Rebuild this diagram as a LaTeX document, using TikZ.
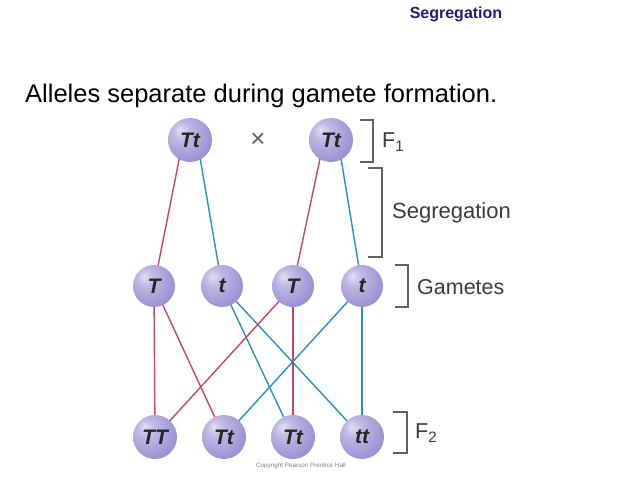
\documentclass[tikz,border=0pt]{standalone}
\usepackage{fontspec}
\setmainfont{Liberation Sans}
\usetikzlibrary{backgrounds}
\definecolor{ballc}{RGB}{140,128,205}
\definecolor{redl}{RGB}{200,70,95}
\definecolor{bluel}{RGB}{40,145,195}
\definecolor{navy}{RGB}{30,30,120}
\definecolor{labg}{RGB}{60,60,60}
\pgfdeclareradialshading{lavball}{\pgfpoint{-12bp}{12bp}}{%
  color(0bp)=(white!75!ballc); color(10bp)=(white!45!ballc);
  color(30bp)=(white!15!ballc); color(50bp)=(ballc); color(62bp)=(ballc!85!black)}
\tikzset{
  ball/.style={circle, shading=lavball, minimum size=44pt, inner sep=0pt,
    font=\fontsize{21}{21}\selectfont\bfseries\itshape, text=black!85},
  sball/.style={ball, minimum size=42pt},
  redline/.style={draw=redl, line width=1.4pt},
  blueline/.style={draw=bluel, line width=1.4pt},
  bracket/.style={draw=labg!80, line width=1.2pt},
  lab/.style={font=\fontsize{21.5}{21.5}\selectfont, text=labg, anchor=west, inner sep=0pt}
}
\begin{document}
\begin{tikzpicture}[x=1pt,y=-1pt]
\useasboundingbox (0,0) rectangle (638,479);
\node[font=\fontsize{16}{16}\selectfont\bfseries, text=navy, anchor=center] (hdr) at (456,14) {Segregation};
\node[font=\fontsize{25.5}{25.5}\selectfont, anchor=west, inner sep=0pt] (title) at (25,96) {Alleles separate during gamete formation.};
% F1
\node[ball] (p1) at (190,140) {Tt};
\node[ball] (p2) at (331,140) {Tt};
\node[font=\fontsize{26}{26}\selectfont, text=labg!80] (x) at (258,140) {×};
% gametes
\node[sball] (g1) at (154,286) {T};
\node[sball] (g2) at (222,286) {t};
\node[sball] (g3) at (293,286) {T};
\node[sball] (g4) at (362,286) {t};
% F2
\node[ball] (f1) at (155,437) {TT};
\node[ball] (f2) at (224,437) {Tt};
\node[ball] (f3) at (293,437) {Tt};
\node[ball] (f4) at (362,437) {tt};
\begin{pgfonlayer}{background}
\draw[redline] (p1.center) ++(-7,0) -- (g1.center);
\draw[blueline] (p1.center) ++(7,0) -- (g2.center);
\draw[redline] (p2.center) ++(-7,0) -- (g3.center);
\draw[blueline] (p2.center) ++(7,0) -- (g4.center);
\draw[redline] (g1.center) -- (f1.center);
\draw[redline] (g1.center) -- (f2.center);
\draw[blueline] (g2.center) -- (f3.center);
\draw[blueline] (g2.center) -- (f4.center);
\draw[redline] (g3.center) -- (f1.center);
\draw[redline] (g3.center) -- (f3.center);
\draw[blueline] (g4.center) -- (f2.center);
\draw[blueline] (g4.center) -- (f4.center);
\end{pgfonlayer}
% brackets
\coordinate (b1a) at (360,120); \coordinate (b1b) at (373,120);
\coordinate (b1c) at (373,162); \coordinate (b1d) at (360,162);
\draw[bracket] (b1a) -- (b1b) -- (b1c) -- (b1d);
\node[lab] (l1) at (382,142) {F\textsubscript{1}};
\coordinate (b2a) at (368,168); \coordinate (b2b) at (382,168);
\coordinate (b2c) at (382,257); \coordinate (b2d) at (368,257);
\draw[bracket] (b2a) -- (b2b) -- (b2c) -- (b2d);
\node[lab, font=\fontsize{22}{22}\selectfont] (l2) at (392,213) {Segregation};
\coordinate (b3a) at (395,265); \coordinate (b3b) at (408,265);
\coordinate (b3c) at (408,307); \coordinate (b3d) at (395,307);
\draw[bracket] (b3a) -- (b3b) -- (b3c) -- (b3d);
\node[lab] (l3) at (417,287) {Gametes};
\coordinate (b4a) at (393,412); \coordinate (b4b) at (407,412);
\coordinate (b4c) at (407,453); \coordinate (b4d) at (393,453);
\draw[bracket] (b4a) -- (b4b) -- (b4c) -- (b4d);
\node[lab] (l4) at (415,433) {F\textsubscript{2}};
\node[font=\fontsize{6.3}{6.3}\selectfont, text=gray] (copy) at (301,466) {Copyright Pearson Prentice Hall};
\end{tikzpicture}
\end{document}
